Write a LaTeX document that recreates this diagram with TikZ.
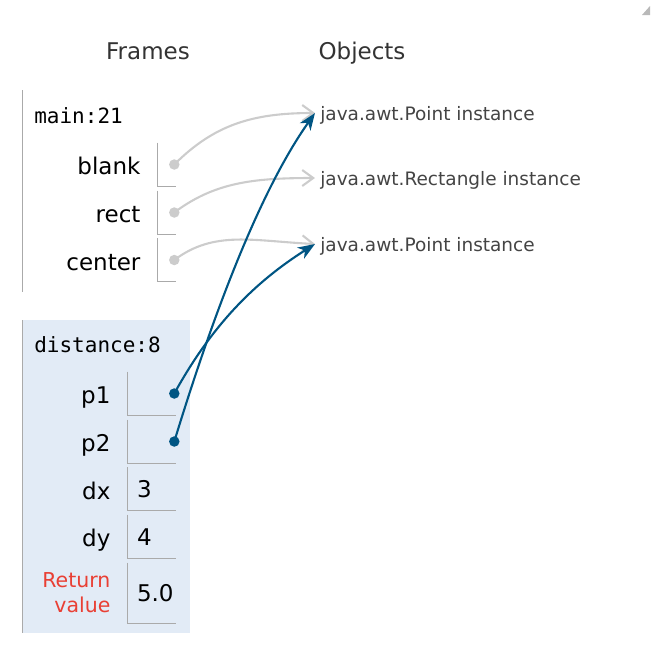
\documentclass[tikz,border=0pt]{standalone}
\usepackage{fontspec}
\setmainfont{DejaVu Sans}
\setmonofont{DejaVu Sans Mono}
\usetikzlibrary{arrows.meta,positioning}
\definecolor{ptrblue}{HTML}{005583}
\definecolor{framebg}{HTML}{E2EBF6}
\definecolor{edgegray}{HTML}{AAAAAA}
\definecolor{refgray}{HTML}{CCCCCC}
\definecolor{retred}{HTML}{E93F34}
\definecolor{objgray}{HTML}{444444}

\begin{document}
\begin{tikzpicture}[x=1pt,y=-1pt,node distance=17pt,semithick]
  \tikzstyle{every node}=[inner sep=0pt]
  \tikzstyle{heading}=[anchor=base,text=black!80,font=\fontsize{23}{27}\selectfont]
  \tikzstyle{fname}=[anchor=base west,font=\ttfamily\fontsize{21}{25}\selectfont]
  \tikzstyle{cell}=[minimum height=43pt,minimum width=48pt]
  \tikzstyle{var}=[text height=20pt,text depth=0pt,font=\fontsize{23}{27}\selectfont]
  \tikzstyle{val}=[text height=17pt,text depth=0pt,font=\fontsize{23}{27}\selectfont]
  \tikzstyle{retlabel}=[align=right,text=retred,font=\fontsize{20.5}{25}\selectfont]
  \tikzstyle{dot}=[circle,minimum size=10.5pt]
  \tikzstyle{obj}=[anchor=west,inner xsep=5pt,text height=14pt,text depth=0pt,
                   text=objgray,font=\fontsize{18.5}{22}\selectfont]
  \tikzstyle{cellline}=[draw=edgegray,line width=1pt]
  \tikzstyle{stackref}=[draw=refgray,line width=2.1pt,
                        -{Straight Barb[length=11pt,width=16pt]}]
  \tikzstyle{heapref}=[draw=ptrblue,line width=2.1pt,
                       -{Stealth[length=17pt,width=13pt,inset=5pt]}]

  \useasboundingbox (0,0) rectangle (652,649);

  \node[heading] (frames)  at (148,59) {Frames};
  \node[heading] (objects) at (362,59) {Objects};

  % main frame
  \draw[cellline] (22.5,90) -- (22.5,292);
  \node[fname] (main) at (34,123) {main:21};
  \node[cell,minimum width=18pt] (cblank)  at (167,164.5) {};
  \node[cell,minimum width=18pt] (crect)   at (167,212.5) {};
  \node[cell,minimum width=18pt] (ccenter) at (167,260)   {};
  \node[var,left=of cblank]  (lblank)  {blank};
  \node[var,left=of crect]   (lrect)   {rect};
  \node[var,left=of ccenter] (lcenter) {center};

  % distance frame
  \fill[framebg] (22,320) rectangle (190,633);
  \draw[cellline] (22.5,320) -- (22.5,633);
  \node[fname] (dist) at (34,352) {distance:8};
  \node[cell] (cp1) at (152,393.5) {};
  \node[cell] (cp2) at (152,441.5) {};
  \node[cell] (cdx) at (152,489)   {};
  \node[cell] (cdy) at (152,536.5) {};
  \node[cell,minimum height=60pt] (cret) at (152,593) {};
  \node[var,left=of cp1] (lp1) {p1};
  \node[var,left=of cp2] (lp2) {p2};
  \node[var,left=of cdx] (ldx) {dx};
  \node[var,left=of cdy] (ldy) {dy};
  \node[retlabel,left=of cret] (lret) {Return\\value};
  \node[val,right=9pt of cdx.west]  (vdx)  {3};
  \node[val,right=9pt of cdy.west]  (vdy)  {4};
  \node[val,right=9pt of cret.west] (vret) {5.0};

  \draw[cellline] (cblank.north west) |- (cblank.south east)
                  (crect.north west) |- (crect.south east)
                  (ccenter.north west) |- (ccenter.south east)
                  (cp1.north west) |- (cp1.south east)
                  (cp2.north west) |- (cp2.south east)
                  (cdx.north west) |- (cdx.south east)
                  (cdy.north west) |- (cdy.south east)
                  (cret.north west) |- (cret.south east);

  % objects
  \node[obj] (point1)    at (315,113) {java.awt.Point instance};
  \node[obj] (rectangle) at (315,178) {java.awt.Rectangle instance};
  \node[obj] (point2)    at (315,244) {java.awt.Point instance};

  \coordinate (dblank)  at ([xshift=-2pt]cblank.east);
  \coordinate (drect)   at ([xshift=-2pt]crect.east);
  \coordinate (dcenter) at ([xshift=-2pt]ccenter.east);
  \coordinate (dp1)     at ([xshift=-2pt]cp1.east);
  \coordinate (dp2)     at ([xshift=-2pt]cp2.east);

  \draw[stackref] (dblank) .. controls +(40,-40) and +(-62,0) .. (point1.west);
  \draw[stackref] (drect) .. controls +(40,-30) and +(-62,0) .. (rectangle.west);
  \draw[stackref] (dcenter) .. controls +(40,-30) and +(-62,-3) .. (point2.west);
  \draw[heapref] (dp1) .. controls +(38,-69) and +(-60,38) .. (point2.west);
  \draw[heapref] (dp2) .. controls +(35,-115) and +(-58,82) .. (point1.west);

  \node[dot,fill=refgray] at (dblank)  {};
  \node[dot,fill=refgray] at (drect)   {};
  \node[dot,fill=refgray] at (dcenter) {};
  \node[dot,fill=ptrblue] at (dp1) {};
  \node[dot,fill=ptrblue] at (dp2) {};

  % resize grip
  \fill[gray!55] (642,15) -- (650,15) -- (650,6) -- cycle;
\end{tikzpicture}
\end{document}
